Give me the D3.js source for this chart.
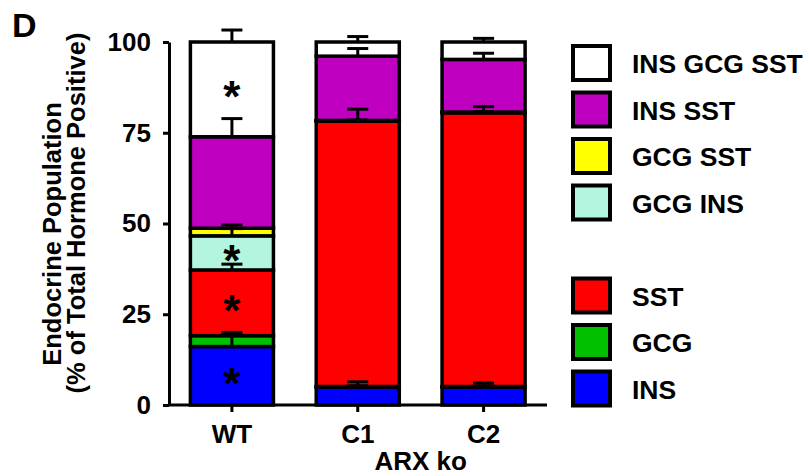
<!DOCTYPE html>
<meta charset='utf-8'>
<head>
<script src='https://cdn.jsdelivr.net/npm/d3@7'></script>
<style>
  body{
    margin: 0;
    background: #fff;
  }
  svg text{
    font-family: 'Liberation Sans', Arial, sans-serif;
    font-weight: bold;
    fill: #000;
  }
</style>
</head>
<body>
  <svg id="chart"></svg>
<script>

  // groups on the x axis
  var groups = ['WT', 'C1', 'C2'];

  // stacking order, bottom to top
  var cellTypes = ['INS', 'GCG', 'SST', 'GCG INS', 'GCG SST', 'INS SST', 'INS GCG SST'];

  // mean % of hormone positive cells, same order as cellTypes
  var wtMeans = [16.1, 3.0, 18.1, 9.4, 2.1, 25.2, 26.1];
  var c1Means = [4.9, 0.2, 73.1, 0.1, 0.1, 17.7, 3.9];
  var c2Means = [4.9, 0.2, 75.4, 0.1, 0.1, 14.5, 4.8];

  // error bars (drawn upward from each segment top)
  var wtErrors = [3.2, 0.9, 1.6, 2.0, 0.9, 5.0, 3.3];
  var c1Errors = [1.5, 0.2, 3.3, 0.1, 0.1, 2.1, 1.5];
  var c2Errors = [1.2, 0.2, 1.7, 0.1, 0.1, 1.7, 1.0];

  // segments marked with * (WT vs ARX ko)
  var wtSignificant = ['INS', 'SST', 'GCG INS', 'INS GCG SST'];

  var yTicks = [0, 25, 50, 75, 100];

  // legend, top to bottom; null leaves a gap
  var legendKeys = ['INS GCG SST', 'INS SST', 'GCG SST', 'GCG INS', null, 'SST', 'GCG', 'INS'];

  var colors = ['#0000ff', '#00c000', '#ff0000', '#b3f5de', '#ffff00', '#c000c0', '#ffffff'];

  var width = 809,
      height = 476;

  var svg = d3.select('#chart')
      .attr('width', width)
      .attr('height', height);

  var means = [wtMeans, c1Means, c2Means];
  var errors = [wtErrors, c1Errors, c2Errors];

  var table = groups.map(function(g, i){
    var row = {group: g};
    cellTypes.forEach(function(k, j){ row[k] = means[i][j]; });
    return row;
  });

  var x = d3.scaleBand()
      .domain(groups)
      .range([169, 546.5])
      .paddingInner(0.34)
      .paddingOuter(0.17);

  var y = d3.scaleLinear()
      .domain([0, 100])
      .range([405, 42]);

  var color = d3.scaleOrdinal()
      .domain(cellTypes)
      .range(colors);

  var series = d3.stack().keys(cellTypes)(table);

  // Bars
  var layers = svg.append('g').selectAll('g')
      .data(series)
      .enter().append('g')
        .attr('fill', function(d){ return color(d.key); });

  layers.selectAll('rect')
      .data(function(d){ return d; })
      .enter().append('rect')
        .attr('x', function(d){ return x(d.data.group); })
        .attr('y', function(d){ return y(d[1]); })
        .attr('width', x.bandwidth())
        .attr('height', function(d){ return y(d[0]) - y(d[1]); })
        .attr('stroke', '#000')
        .attr('stroke-width', 3.5);

  // Error bars
  var errData = [];
  series.forEach(function(s, j){
    s.forEach(function(d, i){
      errData.push({group: d.data.group, top: d[1], err: errors[i][j]});
    });
  });

  var errG = svg.append('g')
      .attr('stroke', '#000')
      .attr('stroke-width', 3);

  errG.selectAll('.stem')
      .data(errData)
      .enter().append('line')
        .attr('x1', function(d){ return x(d.group) + x.bandwidth() / 2; })
        .attr('x2', function(d){ return x(d.group) + x.bandwidth() / 2; })
        .attr('y1', function(d){ return y(d.top); })
        .attr('y2', function(d){ return y(d.top + d.err); });

  errG.selectAll('.cap')
      .data(errData)
      .enter().append('line')
        .attr('x1', function(d){ return x(d.group) + x.bandwidth() / 2 - 10.5; })
        .attr('x2', function(d){ return x(d.group) + x.bandwidth() / 2 + 10.5; })
        .attr('y1', function(d){ return y(d.top + d.err); })
        .attr('y2', function(d){ return y(d.top + d.err); });

  // Significance stars on WT
  var stars = series.filter(function(s){ return wtSignificant.indexOf(s.key) >= 0; })
      .map(function(s){ return s[0]; });

  svg.append('g').selectAll('text')
      .data(stars)
      .enter().append('text')
        .attr('x', function(d){ return x(d.data.group) + x.bandwidth() / 2; })
        .attr('y', function(d){ return y((d[0] + d[1]) / 2) + 23; })
        .attr('text-anchor', 'middle')
        .style('font-size', '44px')
        .text('*');

  // Axes
  var yAxis = svg.append('g')
      .attr('transform', 'translate(169,0)')
      .call(d3.axisLeft(y).tickValues(yTicks).tickSize(6).tickSizeOuter(0).tickPadding(12));

  var xAxis = svg.append('g')
      .attr('transform', 'translate(0,405)')
      .call(d3.axisBottom(x).tickSize(7).tickSizeOuter(0).tickPadding(13));

  xAxis.select('.domain').attr('d', 'M169,0H547');

  [yAxis, xAxis].forEach(function(a){
    a.selectAll('.domain, .tick line').attr('stroke', '#000').attr('stroke-width', 3);
    a.selectAll('.tick text')
      .attr('fill', '#000')
      .style('font-family', "'Liberation Sans', Arial, sans-serif")
      .style('font-weight', 'bold')
      .style('font-size', '26px');
  });

  // Axis titles
  svg.append('text')
      .attr('transform', 'translate(61,234) rotate(-90)')
      .attr('text-anchor', 'middle')
      .style('font-size', '25.5px')
      .text('Endocrine Population');

  svg.append('text')
      .attr('transform', 'translate(85,213) rotate(-90)')
      .attr('text-anchor', 'middle')
      .style('font-size', '25.5px')
      .text('(% of Total Hormone Positive)');

  svg.append('text')
      .attr('x', (x('C1') + x('C2')) / 2 + x.bandwidth() / 2)
      .attr('y', 470)
      .attr('text-anchor', 'middle')
      .style('font-size', '26px')
      .text('ARX ko');

  // Panel letter
  svg.append('text')
      .attr('x', 12)
      .attr('y', 37)
      .style('font-size', '34px')
      .text('D');

  // Legend
  var legend = svg.append('g').selectAll('g')
      .data(legendKeys.map(function(k, i){ return {key: k, slot: i}; })
                      .filter(function(d){ return d.key !== null; }))
      .enter().append('g')
        .attr('transform', function(d){ return 'translate(573,' + (46 + d.slot * 46.5) + ')'; });

  legend.append('rect')
      .attr('width', 37)
      .attr('height', 34)
      .attr('fill', function(d){ return color(d.key); })
      .attr('stroke', '#000')
      .attr('stroke-width', 4);

  legend.append('text')
      .attr('x', 59)
      .attr('y', 27)
      .style('font-size', '26.5px')
      .text(function(d){ return d.key; });

</script>
</body>
</html>
